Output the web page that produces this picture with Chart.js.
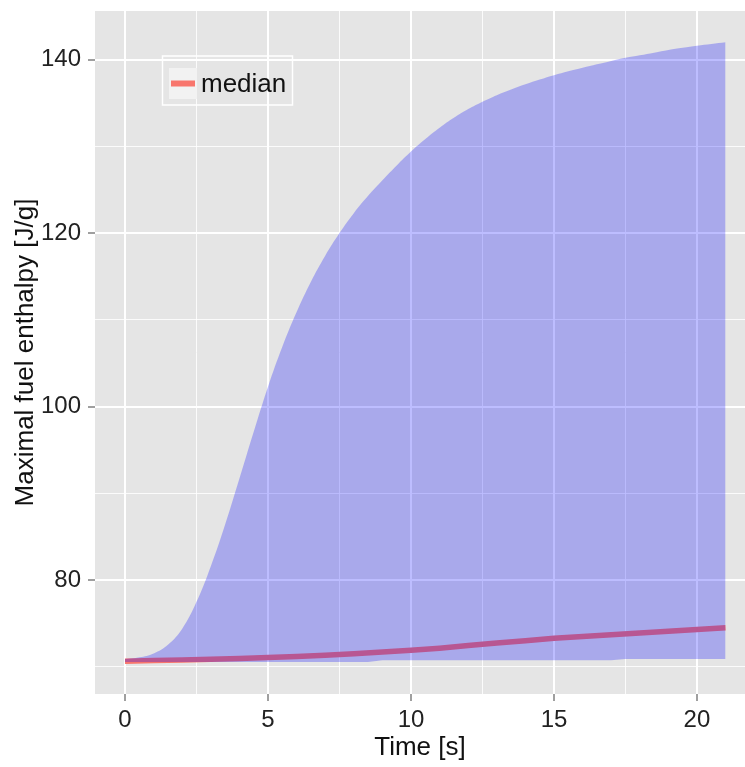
<!DOCTYPE html>
<html>
<head>
<meta charset="utf-8">
<script src="https://cdn.jsdelivr.net/npm/chart.js@4/dist/chart.umd.min.js"></script>
<style>
  html, body { margin: 0; padding: 0; background: #ffffff; }
  canvas { display: block; }
</style>
</head>
<body>
<canvas id="chart" width="745" height="767"></canvas>
<script>
// band (min/max envelope) sampled every 0.5 s
const timeBand = [0, 0.5, 1, 1.5, 2, 2.5, 3, 3.5, 4, 4.5, 5, 5.5, 6, 6.5, 7, 7.5, 8, 8.5, 9, 9.5,
    10, 10.5, 11, 11.5, 12, 12.5, 13, 13.5, 14, 14.5, 15, 15.5, 16, 16.5, 17, 17.5, 18, 18.5, 19, 19.5,
    20, 20.5, 21];
const upperBand = [70.9, 71.1, 71.55, 72.55, 74.4, 77.5, 81.6, 86.4, 91.7, 97.1, 102.3, 106.9, 110.9, 114.4,
    117.4, 120.0, 122.3, 124.3, 126.1, 127.8, 129.4, 130.85, 132.15, 133.3, 134.3, 135.15, 135.9, 136.55,
    137.15, 137.7, 138.2, 138.65, 139.05, 139.45, 139.85, 140.2, 140.5, 140.8, 141.1, 141.35, 141.6, 141.8, 142.0];
const lowerBand = [70.55, 70.55, 70.55, 70.55, 70.55, 70.55, 70.55, 70.55, 70.55, 70.55, 70.55, 70.55,
    70.55, 70.55, 70.55, 70.55, 70.55, 70.55, 70.76, 70.76, 70.76, 70.76, 70.76, 70.76, 70.76, 70.76,
    70.76, 70.76, 70.76, 70.76, 70.76, 70.76, 70.76, 70.76, 70.76, 70.9, 70.9, 70.9, 70.9, 70.9, 70.9,
    70.9, 70.9];

// median curve
const medianTime = [0, 1, 2, 3, 4, 5, 6, 7, 8, 9, 10, 11, 12, 13, 14, 15, 16, 17, 18, 19, 20, 21];
const medianValues = [70.65, 70.72, 70.8, 70.88, 70.97, 71.07, 71.2, 71.35, 71.52, 71.7, 71.9, 72.15,
    72.45, 72.75, 73.0, 73.3, 73.5, 73.7, 73.9, 74.1, 74.3, 74.5];

// breaks
const xTicks = [0, 2.5, 5, 7.5, 10, 12.5, 15, 17.5, 20];
const xLabels = [0, 5, 10, 15, 20];
const yTicks = [70, 80, 90, 100, 110, 120, 130, 140];
const yLabels = [80, 100, 120, 140];

const panelGrey = '#E5E5E5';
const medianRed = '#F8766D';
const textFont = { family: "'Liberation Sans', Arial, sans-serif", size: 24 };
const titleFont = { family: "'Liberation Sans', Arial, sans-serif", size: 26 };

const toPoints = (xs, ys) => xs.map((x, i) => ({ x: x, y: ys[i] }));

const gridFor = (majors) => ({
    color: ctx => majors.includes(ctx.tick.value) ? '#FFFFFF' : 'rgba(255,255,255,0.85)',
    lineWidth: ctx => majors.includes(ctx.tick.value) ? 2 : 1,
    drawTicks: true,
    tickLength: 7,
    tickWidth: 1.5,
    tickColor: ctx => majors.includes(ctx.tick.value) ? '#7F7F7F' : 'rgba(0,0,0,0)'
});

// grey panel behind everything
const panelBackground = {
    id: 'panelBackground',
    beforeDraw(chart) {
        const { ctx, chartArea } = chart;
        ctx.save();
        ctx.fillStyle = panelGrey;
        ctx.fillRect(chartArea.left, chartArea.top, chartArea.right - chartArea.left, chartArea.bottom - chartArea.top);
        ctx.restore();
    }
};

// ggplot style legend inside the panel
const ggLegend = {
    id: 'ggLegend',
    afterDraw(chart) {
        const ctx = chart.ctx;
        const ds = chart.data.datasets[2];
        ctx.save();
        ctx.strokeStyle = '#FFFFFF';
        ctx.lineWidth = 1.5;
        ctx.strokeRect(162.5, 56, 130, 49);
        ctx.fillStyle = '#F2F2F2';
        ctx.fillRect(169, 68, 28, 31);
        ctx.strokeStyle = ds.borderColor;
        ctx.lineWidth = 6;
        ctx.beginPath();
        ctx.moveTo(171, 83.5);
        ctx.lineTo(195, 83.5);
        ctx.stroke();
        ctx.fillStyle = '#111111';
        ctx.font = "26px 'Liberation Sans', Arial, sans-serif";
        ctx.textBaseline = 'middle';
        ctx.fillText(ds.label, 201, 85);
        ctx.restore();
    }
};

new Chart(document.getElementById('chart'), {
    type: 'line',
    data: {
        datasets: [{
            label: 'lower',
            data: toPoints(timeBand, lowerBand),
            borderWidth: 0,
            pointRadius: 0,
            fill: false,
            order: 0
        }, {
            label: 'upper',
            data: toPoints(timeBand, upperBand),
            borderWidth: 0,
            pointRadius: 0,
            tension: 0.4,
            backgroundColor: 'rgba(0,0,255,0.26)',
            fill: '-1',
            order: 0
        }, {
            label: 'median',
            data: toPoints(medianTime, medianValues),
            borderColor: medianRed,
            borderWidth: 5.5,
            pointRadius: 0,
            fill: false,
            order: 1
        }]
    },
    options: {
        responsive: false,
        animation: false,
        layout: { padding: { top: 11, right: 0, left: 0, bottom: 0 } },
        plugins: {
            legend: { display: false },
            tooltip: { enabled: false }
        },
        scales: {
            x: {
                type: 'linear',
                min: -1.05,
                max: 21.68,
                afterBuildTicks: s => { s.ticks = xTicks.map(v => ({ value: v })); },
                afterFit: s => { s.height = 73; s.paddingLeft = 0; s.paddingRight = 0; },
                ticks: {
                    autoSkip: false,
                    maxRotation: 0,
                    padding: 5,
                    color: '#222222',
                    font: textFont,
                    callback: v => xLabels.includes(v) ? String(v) : ''
                },
                grid: gridFor(xLabels),
                border: { display: false },
                title: {
                    display: true,
                    text: 'Time [s]',
                    color: '#111111',
                    font: titleFont,
                    padding: { top: 0, bottom: 4 }
                }
            },
            y: {
                type: 'linear',
                min: 66.87,
                max: 145.6,
                afterBuildTicks: s => { s.ticks = yTicks.map(v => ({ value: v })); },
                afterFit: s => { s.width = 95; s.paddingTop = 0; s.paddingBottom = 0; },
                ticks: {
                    autoSkip: false,
                    padding: 7,
                    color: '#222222',
                    font: textFont,
                    callback: v => yLabels.includes(v) ? String(v) : ''
                },
                grid: gridFor(yLabels),
                border: { display: false },
                title: {
                    display: true,
                    text: 'Maximal fuel enthalpy [J/g]',
                    color: '#111111',
                    font: titleFont,
                    padding: { top: 10, bottom: 0 }
                }
            }
        }
    },
    plugins: [panelBackground, ggLegend]
});
</script>
</body>
</html>
